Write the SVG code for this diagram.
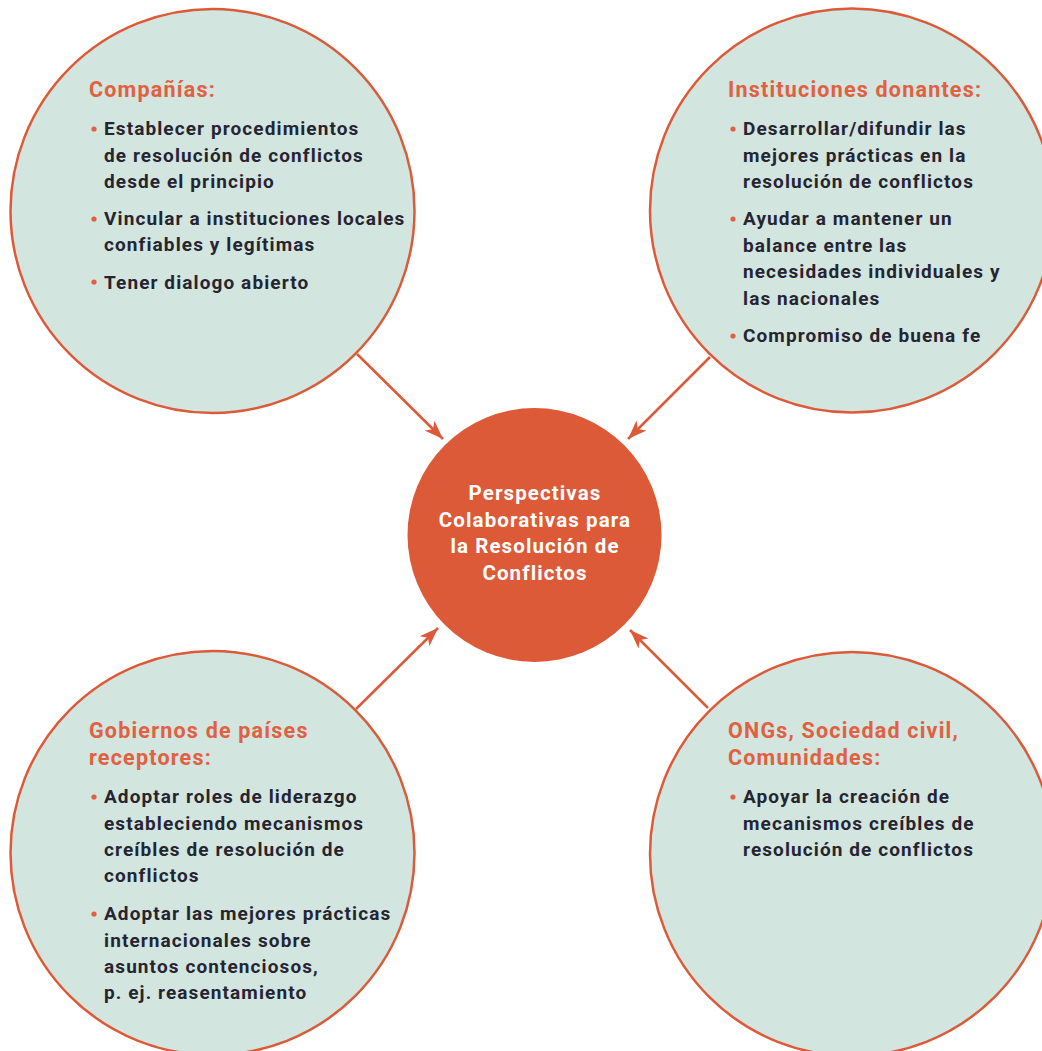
<svg xmlns="http://www.w3.org/2000/svg" width="1042" height="1051" viewBox="0 0 1042 1051">
<defs>
<marker id="ah" markerUnits="userSpaceOnUse" markerWidth="20" markerHeight="16" viewBox="0 0 20 16" refX="19" refY="8" orient="auto">
<path d="M0,1 L19,8 L0,15 L5,8 Z" fill="#dc5a38"/>
</marker>
<style>
.outer{fill:#d2e5df;stroke:#dc5a38;stroke-width:2.5}
.core{fill:#dc5a38}
.conn{stroke:#dc5a38;stroke-width:2.5;fill:none;marker-end:url(#ah)}
.h{font-family:Roboto,"Liberation Sans",sans-serif;font-weight:700;font-size:21.5px;letter-spacing:1.2px;fill:#e0603f}
.b{font-family:Roboto,"Liberation Sans",sans-serif;font-weight:700;font-size:19px;letter-spacing:1.1px;fill:#262431}
.c{font-family:Roboto,"Liberation Sans",sans-serif;font-weight:700;font-size:20.5px;letter-spacing:1.1px;fill:#ffffff;text-anchor:middle}
.dot{fill:#e0603f}
</style>
</defs>
<rect width="1042" height="1051" fill="#ffffff"/>
<g id="connectors">
<line class="conn" x1="357" y1="354" x2="443" y2="439"/>
<line class="conn" x1="710" y1="357" x2="628" y2="439"/>
<line class="conn" x1="356" y1="709" x2="438" y2="628"/>
<line class="conn" x1="708" y1="708" x2="630" y2="630"/>
</g>
<g id="companias">
<circle class="outer" cx="212.5" cy="211" r="202"/>
<text class="h" x="89" y="97">Compañías:</text>
<circle class="dot" cx="94" cy="129" r="2.6"/>
<text class="b" x="104" y="135">Establecer procedimientos</text>
<text class="b" x="104" y="161.5">de resolución de conflictos</text>
<text class="b" x="104" y="188">desde el principio</text>
<circle class="dot" cx="94" cy="219" r="2.6"/>
<text class="b" x="104" y="225">Vincular a instituciones locales</text>
<text class="b" x="104" y="251">confiables y legítimas</text>
<circle class="dot" cx="94" cy="282" r="2.6"/>
<text class="b" x="104" y="288.5">Tener dialogo abierto</text>
</g>
<g id="donantes">
<circle class="outer" cx="852" cy="210.5" r="202"/>
<text class="h" x="728" y="97">Instituciones donantes:</text>
<circle class="dot" cx="733" cy="129" r="2.6"/>
<text class="b" x="743" y="135">Desarrollar/difundir las</text>
<text class="b" x="743" y="161.5">mejores prácticas en la</text>
<text class="b" x="743" y="188">resolución de conflictos</text>
<circle class="dot" cx="733" cy="219" r="2.6"/>
<text class="b" x="743" y="225">Ayudar a mantener un</text>
<text class="b" x="743" y="251.5">balance entre las</text>
<text class="b" x="743" y="278">necesidades individuales y</text>
<text class="b" x="743" y="304.5">las nacionales</text>
<circle class="dot" cx="733" cy="336" r="2.6"/>
<text class="b" x="743" y="342">Compromiso de buena fe</text>
</g>
<g id="gobiernos">
<circle class="outer" cx="212.5" cy="853" r="202"/>
<text class="h" x="89" y="738">Gobiernos de países</text>
<text class="h" x="89" y="765">receptores:</text>
<circle class="dot" cx="94" cy="797" r="2.6"/>
<text class="b" x="104" y="803">Adoptar roles de liderazgo</text>
<text class="b" x="104" y="829.5">estableciendo mecanismos</text>
<text class="b" x="104" y="856">creíbles de resolución de</text>
<text class="b" x="104" y="882">conflictos</text>
<circle class="dot" cx="94" cy="914" r="2.6"/>
<text class="b" x="104" y="920">Adoptar las mejores prácticas</text>
<text class="b" x="104" y="946.5">internacionales sobre</text>
<text class="b" x="104" y="973">asuntos contenciosos,</text>
<text class="b" x="104" y="999">p. ej. reasentamiento</text>
</g>
<g id="ongs">
<circle class="outer" cx="852" cy="854" r="202"/>
<text class="h" x="728" y="738">ONGs, Sociedad civil,</text>
<text class="h" x="728" y="765">Comunidades:</text>
<circle class="dot" cx="733" cy="797" r="2.6"/>
<text class="b" x="743" y="803">Apoyar la creación de</text>
<text class="b" x="743" y="829.5">mecanismos creíbles de</text>
<text class="b" x="743" y="856">resolución de conflictos</text>
</g>
<g id="centro">
<circle class="core" cx="534.5" cy="535" r="127"/>
<text class="c" x="535" y="500">Perspectivas</text>
<text class="c" x="535" y="526.5">Colaborativas para</text>
<text class="c" x="535" y="553">la Resolución de</text>
<text class="c" x="535" y="579.5">Conflictos</text>
</g>
</svg>
